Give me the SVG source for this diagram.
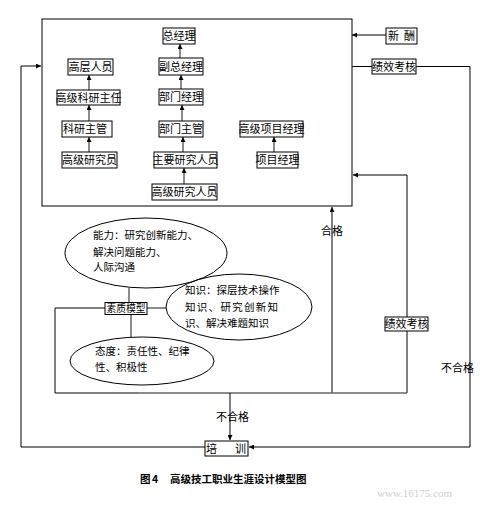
<svg xmlns="http://www.w3.org/2000/svg" width="486" height="506" viewBox="0 0 486 506">
<defs>
<marker id="ah" viewBox="0 0 10 10" refX="10" refY="5" markerWidth="5" markerHeight="5" orient="auto" markerUnits="userSpaceOnUse">
<path d="M0,0 L10,5 L0,10 z" fill="#000"/>
</marker>
<style>
text{font-family:"Noto Sans CJK SC","Noto Sans CJK JP",sans-serif;font-size:11px;fill:#000}
.box{fill:#fff;stroke:#000;stroke-width:1}
.lbl{text-anchor:middle}
.ln{fill:none;stroke:#000;stroke-width:1}
.gl{fill:none;stroke:#666;stroke-width:1.5}
.arr{marker-end:url(#ah)}
.ell{fill:none;stroke:#000;stroke-width:1}
.et{font-size:10.5px}
.cap{font-weight:bold;font-size:10.5px}
.wm{font-family:"Liberation Serif",serif;font-size:11px;fill:#d0d0d0}
</style>
</defs>
<rect x="0" y="0" width="486" height="506" fill="#fff"/>

<g id="connectors">
<line class="gl arr" x1="89" y1="152" x2="89" y2="137"/>
<line class="gl arr" x1="89" y1="121" x2="89" y2="105"/>
<line class="gl arr" x1="89" y1="90" x2="89" y2="75"/>
<line class="gl arr" x1="180" y1="58" x2="180" y2="44"/>
<line class="gl arr" x1="181" y1="89" x2="181" y2="75"/>
<line class="gl arr" x1="182" y1="121" x2="182" y2="105"/>
<line class="gl arr" x1="183" y1="152" x2="183" y2="137"/>
<line class="gl arr" x1="184" y1="184" x2="184" y2="168"/>
<line class="gl arr" x1="274" y1="152" x2="274" y2="137"/>
<line class="ln arr" x1="386" y1="35" x2="352" y2="35"/>
<line class="ln" x1="352" y1="66.5" x2="372" y2="66.5"/>
<polyline class="ln" points="416,66.5 470,66.5 470,447"/>
<line class="ln arr" x1="470" y1="447" x2="249" y2="447"/>
<polyline class="ln arr" points="205,447 21,447 21,66 41,66"/>
<line class="ln arr" x1="407" y1="175" x2="353" y2="175"/>
<line class="ln" x1="407" y1="175" x2="407" y2="317"/>
<line class="ln" x1="407" y1="331" x2="407" y2="393"/>
<line class="ln arr" x1="332" y1="393" x2="332" y2="207"/>
<line class="ln" x1="55" y1="393" x2="138" y2="393"/>
<line class="gl" x1="138" y1="393" x2="407" y2="393"/>
<polyline class="ln" points="105,308 55,308 55,393"/>
<line class="ln arr" x1="230" y1="393" x2="230" y2="440"/>
<line class="gl" x1="129" y1="288" x2="129" y2="302.5"/>
<line class="gl" x1="131" y1="314.5" x2="131" y2="337"/>
<line class="gl" x1="147" y1="308" x2="166" y2="308"/>
</g>

<g id="org">
<rect x="42" y="19" width="310" height="187" fill="none" stroke="#000" stroke-width="1"/>
</g>

<g id="n-zjl"><rect class="box" x="163" y="28" width="32" height="16"/><text class="lbl" x="179" y="40">总经理</text></g>
<g id="n-fzjl"><rect class="box" x="159" y="58" width="44" height="17"/><text class="lbl" x="181" y="70.5">副总经理</text></g>
<g id="n-bmjl"><rect class="box" x="159" y="89" width="44" height="16"/><text class="lbl" x="181" y="101">部门经理</text></g>
<g id="n-bmzg"><rect class="box" x="159" y="121" width="44" height="16"/><text class="lbl" x="181" y="133">部门主管</text></g>
<g id="n-zyyjry"><rect class="box" x="154" y="152" width="63" height="16"/><text class="lbl" x="185.5" y="164">主要研究人员</text></g>
<g id="n-gjyjry"><rect class="box" x="152" y="184" width="65" height="16"/><text class="lbl" x="184.5" y="196">高级研究人员</text></g>
<g id="n-gcry"><rect class="box" x="68" y="59" width="45" height="16"/><text class="lbl" x="90.5" y="71">高层人员</text></g>
<g id="n-gjkyzr"><rect class="box" x="57" y="90" width="63" height="15"/><text class="lbl" x="88.5" y="101.5">高级科研主任</text></g>
<g id="n-kyzg"><rect class="box" x="62" y="121" width="50" height="16"/><text x="63" y="133">科研主管</text></g>
<g id="n-gjyjy"><rect class="box" x="62" y="152" width="55" height="16"/><text class="lbl" x="89.5" y="164">高级研究员</text></g>
<g id="n-gjxmjl"><rect class="box" x="240" y="121" width="63" height="16"/><text class="lbl" x="271.5" y="133">高级项目经理</text></g>
<g id="n-xmjl"><rect class="box" x="257" y="152" width="41" height="16"/><text class="lbl" x="277.5" y="164">项目经理</text></g>

<g id="n-xc"><rect class="box" x="386" y="28" width="31" height="16"/><text x="388" y="40">新</text><text x="404" y="40">酬</text></g>
<g id="n-jxkh1"><rect class="box" x="372" y="59" width="44" height="15"/><text class="lbl" x="394" y="70.5">绩效考核</text></g>
<g id="n-jxkh2"><rect class="box" x="385" y="317" width="43" height="14"/><text class="lbl" x="406.5" y="328">绩效考核</text></g>
<g id="n-px"><rect class="box" x="205" y="441" width="43" height="15"/><text x="206" y="452.5">培</text><text x="235" y="452.5">训</text></g>
<g id="n-szmx"><rect class="box" x="105" y="302.5" width="42" height="12"/><text class="lbl" x="126" y="312" style="font-size:9.8px">素质模型</text></g>

<g id="e-nl">
<ellipse class="ell" cx="146" cy="253" rx="81" ry="35"/>
<text class="et" x="93" y="239">能力：研究创新能力、</text>
<text class="et" x="93" y="256">解决问题能力、</text>
<text class="et" x="93" y="271">人际沟通</text>
</g>
<g id="e-zs">
<ellipse class="ell" cx="239" cy="307" rx="73" ry="33"/>
<text class="et" x="185" y="294">知识：探层技术操作</text>
<text class="et" x="185" y="311" letter-spacing="1.3">知识、研究创新知</text>
<text class="et" x="185" y="327">识、解决难题知识</text>
</g>
<g id="e-td">
<ellipse class="ell" cx="142" cy="361" rx="72" ry="24"/>
<text class="et" x="95" y="355">态度：责任性、纪律</text>
<text class="et" x="95" y="371">性、积极性</text>
</g>

<g id="labels">
<text x="321" y="235">合格</text>
<text x="216" y="421">不合格</text>
<text x="441" y="372">不合格</text>
</g>

<g id="caption">
<text class="cap" x="140" y="483">图</text>
<text class="cap" x="152" y="483">4</text>
<text class="cap" x="170" y="483">高级技工职业生涯设计模型图</text>
<text class="wm" x="377" y="497">www.16175.com</text>
</g>
</svg>
